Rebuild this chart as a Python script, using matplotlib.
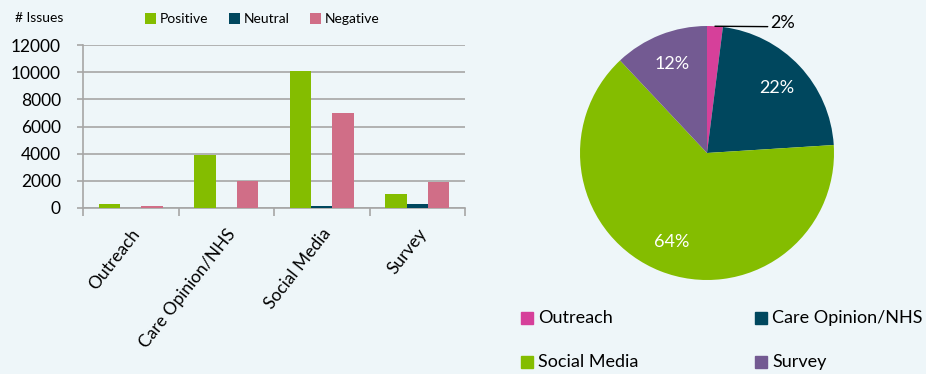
import numpy as np
import matplotlib.pyplot as plt
from matplotlib.patches import Rectangle

# issue counts by source and sentiment
sources = ['Outreach', 'Care Opinion/NHS', 'Social Media', 'Survey']
sentiments = ['Positive', 'Neutral', 'Negative']
positive = [280, 3880, 10050, 1060]
neutral = [20, 30, 140, 260]
negative = [170, 2020, 7020, 1930]

# share of all issues per source (%)
share = [2, 22, 64, 12]

bg = '#EEF6F9'
sent_colors = ['#84BD00', '#00475E', '#D06E87']
src_colors = ['#D6409A', '#00475E', '#84BD00', '#735A92']
grid_gray = '#A6A6A6'

plt.rcParams['font.family'] = ['Lato', 'DejaVu Sans']

W, H = 926, 374
fig = plt.figure(figsize=(W / 100, H / 100), dpi=100, facecolor=bg)

# ---- bar chart ----
ax = fig.add_axes([83 / W, 1 - 208 / H, (465 - 83) / W, (208 - 45) / H])
ax.set_facecolor(bg)
x = np.arange(len(sources))
bw = 0.222
for i, (name, vals) in enumerate(zip(sentiments, [positive, neutral, negative])):
    ax.bar(x + (i - 1) * bw, vals, bw, color=sent_colors[i], label=name, zorder=3)

ax.set_xlim(-0.5, len(sources) - 0.5)
ax.set_ylim(0, 12000)
ax.set_yticks(np.arange(0, 12001, 2000))
ax.grid(axis='y', color=grid_gray, linewidth=1.2, zorder=0)
for s in ['top', 'right']:
    ax.spines[s].set_visible(False)
for s in ['left', 'bottom']:
    ax.spines[s].set_color(grid_gray)
    ax.spines[s].set_linewidth(1.2)
ax.tick_params(axis='y', length=4, color=grid_gray, width=1.2, pad=12, labelsize=12.5)
ax.set_xticks(x)
ax.set_xticklabels(sources, rotation=52, ha='right', rotation_mode='anchor', fontsize=12.5)
ax.tick_params(axis='x', length=0, pad=13)
ax.set_xticks(np.arange(-0.5, len(sources)), minor=True)
ax.tick_params(axis='x', which='minor', length=6, color=grid_gray, width=1.2)

fig.text(15 / W, 1 - 18 / H, '# Issues', fontsize=10, va='center', ha='left')
ax.legend(loc='upper left', bbox_to_anchor=(145 / W, 1 - 13 / H),
          bbox_transform=fig.transFigure, ncol=3, frameon=False, fontsize=10,
          handlelength=0.8, handleheight=0.8, handletextpad=0.25,
          columnspacing=1.5, borderpad=0, borderaxespad=0)

# ---- pie chart ----
r_px = 127
cx, cy = 707, 153
half = 1.25 * r_px
pax = fig.add_axes([(cx - half) / W, 1 - (cy + half) / H, 2 * half / W, 2 * half / H])
wedges, texts, autotexts = pax.pie(share, colors=src_colors, startangle=90,
                                   counterclock=False, autopct='%d%%',
                                   pctdistance=0.75,
                                   textprops=dict(color='white', fontsize=13))
pax.set_xlim(-1.25, 1.25)
pax.set_ylim(-1.25, 1.25)
pax.set_aspect('equal')

# small slice gets an outside label with a leader line
autotexts[0].set_text('')
theta = np.deg2rad(90 - 360 * share[0] / 100 / 2)
pax.annotate('%d%%' % share[0], xy=(np.cos(theta), np.sin(theta)),
             xytext=(0.5, 1.02), fontsize=13, color='black', ha='left', va='center',
             arrowprops=dict(arrowstyle='-', color='black', lw=1,
                             shrinkA=0, shrinkB=0, relpos=(0, 0.3)))

# pie legend, two columns
for i, name in enumerate(sources):
    lx = 521 + 234 * (i % 2)
    ly = 318 + 44 * (i // 2)
    fig.add_artist(Rectangle((lx / W, 1 - (ly + 6) / H), 12 / W, 12 / H,
                             transform=fig.transFigure, color=src_colors[i]))
    fig.text((lx + 17) / W, 1 - ly / H, name, fontsize=13, va='center', ha='left')

fig.savefig('out.png', dpi=100, facecolor=bg)
